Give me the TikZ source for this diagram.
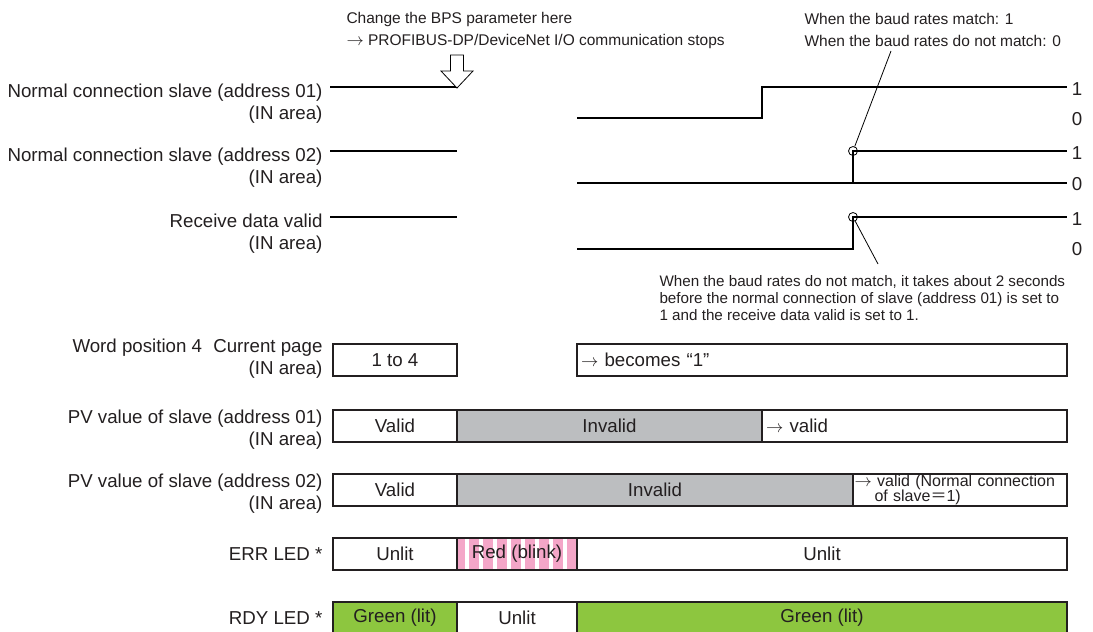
\documentclass[tikz,border=0pt]{standalone}
\usepackage{fontspec}
\setmainfont{Liberation Sans}
\newfontfamily\cjk{Noto Sans CJK JP}
\definecolor{ink}{RGB}{35,31,32}
\definecolor{pvgray}{RGB}{188,190,192}
\definecolor{ledgreen}{RGB}{141,198,63}
\definecolor{ledpink}{RGB}{244,166,200}
\newcommand{\bigtxt}{\fontsize{18.7}{22}\selectfont}
\newcommand{\notetxt}{\fontsize{15.2}{16.7}\selectfont}
\newcommand{\toarr}{{\fontsize{16}{16}\selectfont$\rightarrow$}}

\begin{document}
\begin{tikzpicture}[x=1pt, y=-1pt, text=ink,
    lbl/.style={anchor=east, align=right, font=\bigtxt},
    lvl/.style={font=\bigtxt},
    note/.style={anchor=west, align=left, font=\notetxt},
    wave/.style={line width=2.6pt, line join=miter},
    cell/.style={draw=ink, line width=1.1pt, minimum height=32pt, inner sep=0pt, font=\bigtxt},
    ring/.style={circle, draw, line width=0.8pt, minimum size=9pt, inner sep=0pt},
    leader/.style={line width=0.8pt}]
    \useasboundingbox (0,0) rectangle (1093,632);

    \node[note, font=\fontsize{15.5}{22}\selectfont] (bpsnote) at (343,30) {Change the BPS parameter here\\\toarr\ PROFIBUS-DP/DeviceNet I/O communication stops};
    \node[note, font=\fontsize{15.5}{22}\selectfont] (matchnote) at (801,30) {When the baud rates match: 1\\When the baud rates do not match: 0};
    \node[note] (delaynote) at (656,298) {When the baud rates do not match, it takes about 2 seconds\\before the normal connection of slave (address 01) is set to\\1 and the receive data valid is set to 1.};

    \node[lbl] (slv1) at (326,104) {Normal connection slave (address 01)\\(IN area)};
    \node[lbl] (slv2) at (326,168) {Normal connection slave (address 02)\\(IN area)};
    \node[lbl] (rdv) at (326,234) {Receive data valid\\(IN area)};
    \node[lbl] (wpos) at (326,359) {Word position 4\hspace{0.6em}Current page\\(IN area)};
    \node[lbl] (pv1) at (326,430) {PV value of slave (address 01)\\(IN area)};
    \node[lbl] (pv2) at (326,494) {PV value of slave (address 02)\\(IN area)};
    \node[lbl] (errlbl) at (326,554) {ERR LED *};
    \node[lbl] (rdylbl) at (326,618) {RDY LED *};

    \draw[wave] (330,87) -- (457,87);
    \draw[wave] (577,118) -- (762,118) -- (762,87) -- (1067,87);
    \draw[wave] (330,151) -- (457,151);
    \draw[wave] (577,183) -- (1067,183);
    \draw[wave] (853,183) -- (853,151) -- (1067,151);
    \draw[wave] (330,217) -- (457,217);
    \draw[wave] (577,249) -- (853,249) -- (853,217) -- (1067,217);

    \draw[line width=0.8pt, fill=white] (450.5,55) -- (463.5,55) -- (463.5,71) -- (473,71) -- (457,88) -- (441,71) -- (450.5,71) -- cycle;

    \node[lvl] (hi1) at (1077,89) {1};
    \node[lvl] (lo1) at (1077,119) {0};
    \node[lvl] (hi2) at (1077,153) {1};
    \node[lvl] (lo2) at (1077,184) {0};
    \node[lvl] (hi3) at (1077,219) {1};
    \node[lvl] (lo3) at (1077,249) {0};

    \node[ring] (ring1) at (853,151) {};
    \node[ring] (ring2) at (853,217) {};
    \coordinate (matchpt) at (891,51);
    \coordinate (delaypt) at (878,264);
    \draw[leader] (ring1) -- (matchpt);
    \draw[leader] (ring2) -- (delaypt);

    \node[cell, minimum width=124pt] (wp1) at (395,360) {1 to 4};
    \node[cell, minimum width=490pt, text width=482pt, align=left] (wp2) at (822,360) {\toarr\ becomes “1”};

    \node[cell, minimum width=124pt] (pv1a) at (395,426) {Valid};
    \node[cell, minimum width=305pt, fill=pvgray] (pv1b) at (609.5,426) {Invalid};
    \node[cell, minimum width=305pt, text width=297pt, align=left] (pv1c) at (914.5,426) {\toarr\ valid};

    \node[cell, minimum width=124pt] (pv2a) at (395,490) {Valid};
    \node[cell, minimum width=396pt, fill=pvgray] (pv2b) at (655,490) {Invalid};
    \node[cell, minimum width=214pt, text width=211pt, align=left, font=\fontsize{16}{15.5}\selectfont] (pv2c) at (960,490) {\toarr\ valid (Normal connection\\\hspace*{20pt}of slave{\cjk ＝}1)};

    \fill[ledpink] (457,538) rectangle (577,570);
    \foreach \sx in {465,479,...,563}
        \fill[white] (\sx,538) rectangle ++(4,32);
    \node[cell, minimum width=124pt] (err1) at (395,554) {Unlit};
    \node[cell, minimum width=120pt] (err2) at (517,554) {Red (blink)};
    \node[cell, minimum width=490pt] (err3) at (822,554) {Unlit};

    \node[cell, minimum width=124pt, fill=ledgreen] (rdy1) at (395,618) {Green (lit)};
    \node[cell, minimum width=120pt] (rdy2) at (517,618) {Unlit};
    \node[cell, minimum width=490pt, fill=ledgreen] (rdy3) at (822,618) {Green (lit)};
\end{tikzpicture}
\end{document}
